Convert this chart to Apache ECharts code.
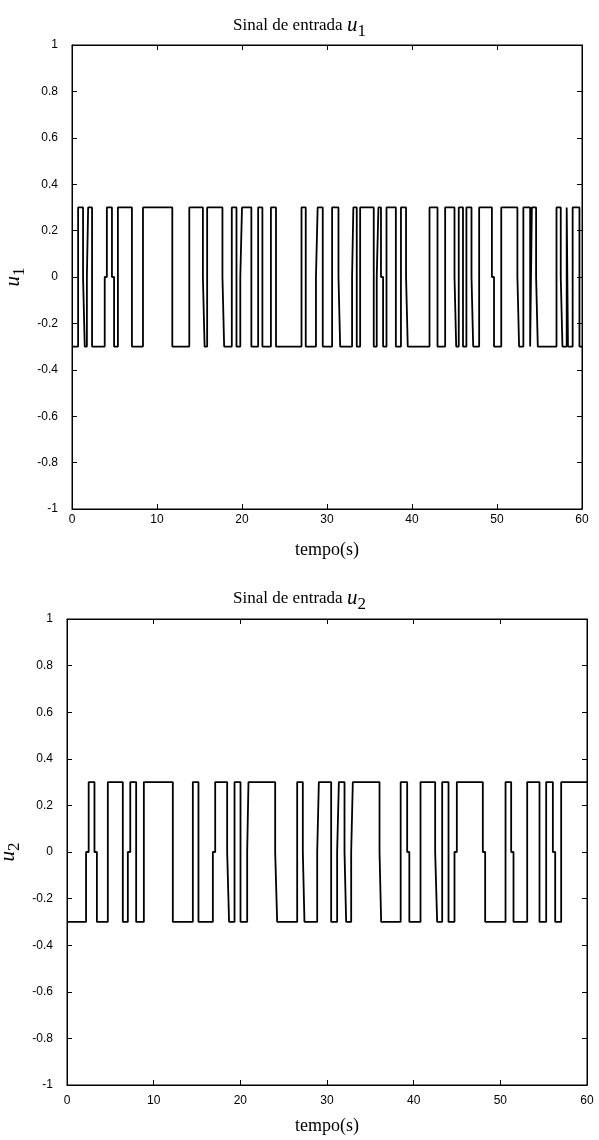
<!DOCTYPE html>
<html>
<head>
    <meta charset="utf-8">
    <title>Sinal de entrada</title>
    <script src="https://cdn.jsdelivr.net/npm/echarts@6/dist/echarts.min.js"></script>
    <style>
        body { margin: 0; background: #fff; }
    </style>
</head>
<body>
    <div id="main" style="width: 599px;height:1140px;"></div>
    <script type="text/javascript">
        // switching instants (s) and the level held from each instant on
        var u1Times = [0, 0.72, 1.3, 1.5, 1.75, 1.9, 2.36, 3.85, 4.1, 4.7, 4.95, 5.4, 7.05, 8.35, 11.8,
            13.8, 15.4, 15.6, 15.9, 17.7, 17.9, 18.8, 19.35, 19.8, 20.0, 21.1, 21.9, 22.4, 23.4, 24.0,
            27.0, 27.5, 28.7, 28.9, 29.5, 30.6, 31.35, 31.55, 32.95, 33.1, 33.5, 33.9, 35.5, 35.85,
            36.05, 36.35, 36.6, 37.0, 38.1, 38.7, 39.3, 39.5, 42.06, 43.0, 43.9, 45.0, 45.2, 45.5,
            46.0, 46.4, 47.0, 47.2, 47.9, 49.4, 49.65, 50.5, 52.4, 52.6, 53.1, 53.9, 54.1, 54.6, 54.8,
            57.0, 57.5, 57.7, 58.2, 58.35, 58.9, 59.7];
        var u1Values = [-0.3, 0.3, 0, -0.3, 0, 0.3, -0.3, 0, 0.3, 0, -0.3, 0.3, -0.3, 0.3, -0.3,
            0.3, 0, -0.3, 0.3, 0, -0.3, 0.3, -0.3, 0, 0.3, -0.3, 0.3, -0.3, 0.3, -0.3,
            0.3, -0.3, 0, 0.3, -0.3, 0.3, 0, -0.3, 0, 0.3, -0.3, 0.3, -0.3, 0,
            0.3, 0, -0.3, 0.3, -0.3, 0.3, 0, -0.3, 0.3, -0.3, 0.3, 0, -0.3, 0.3,
            -0.3, 0.3, 0, -0.3, 0.3, 0, -0.3, 0.3, 0, -0.3, 0.3, -0.3, 0.3, 0, -0.3,
            0.3, 0, -0.3, 0.3, -0.3, 0.3, -0.3];

        var u2Times = [0, 2.2, 2.5, 3.17, 3.45, 4.71, 6.44, 7.02, 7.3, 7.98, 8.87, 12.21, 14.52, 15.17,
            16.83, 17.1, 18.48, 18.7, 19.33, 20.02, 20.79, 20.94, 24.02, 24.25, 26.56, 27.21, 27.4,
            28.87, 29.06, 30.48, 31.17, 31.37, 32.02, 32.21, 32.79, 32.98, 36.06, 36.25, 38.5, 39.25,
            39.5, 40.79, 42.48, 42.71, 43.29, 44.02, 44.71, 44.98, 47.98, 48.25, 50.6, 51.25, 51.52,
            53.1, 54.52, 55.29, 56.06, 56.33, 57.02];
        var u2Values = [-0.3, 0, 0.3, 0, -0.3, 0.3, -0.3, 0, 0.3, -0.3, 0.3, -0.3, 0.3, -0.3,
            0, 0.3, 0, -0.3, 0.3, -0.3, 0, 0.3, 0, -0.3, 0.3, 0, -0.3,
            0, 0.3, -0.3, 0, 0.3, 0, -0.3, 0, 0.3, 0, -0.3, 0.3, 0,
            -0.3, 0.3, 0, -0.3, 0.3, -0.3, 0, 0.3, 0, -0.3, 0.3, 0, -0.3,
            0.3, -0.3, 0.3, 0, -0.3, 0.3];

        var tEnd = 60;

        // stairs: each level is held until the next switching instant
        function stairs(times, values) {
            var out = [];
            times.forEach(function (t, i) {
                if (i > 0) {
                    out.push([t, values[i - 1]]);
                }
                out.push([t, values[i]]);
            });
            out.push([tEnd, values[values.length - 1]]);
            return out;
        }

        var myChart = echarts.init(document.getElementById('main'));

        var serif = 'Liberation Serif';
        var tickFont = { fontFamily: 'Liberation Sans', fontSize: 12, color: '#000' };
        var titleRich = {
            a: { fontFamily: serif, fontSize: 17, fontWeight: 'normal', color: '#000' },
            u: { fontFamily: serif, fontSize: 21, fontWeight: 'normal', fontStyle: 'italic', color: '#000' },
            s: { fontFamily: serif, fontSize: 17, fontWeight: 'normal', color: '#000', padding: [12, 0, 0, 0] }
        };

        function xAxes(grid, margin, gap) {
            return [{
                type: 'value', gridIndex: grid, min: 0, max: tEnd, interval: 10,
                name: 'tempo(s)', nameLocation: 'middle', nameGap: gap,
                nameTextStyle: { fontFamily: serif, fontSize: 18, color: '#000' },
                axisLine: { show: true, onZero: false, lineStyle: { color: '#000', width: 1 } },
                axisTick: { inside: true, length: 5, lineStyle: { color: '#000' } },
                axisLabel: Object.assign({ margin: margin }, tickFont),
                splitLine: { show: false }
            }, {
                type: 'value', gridIndex: grid, min: 0, max: tEnd, interval: 10, position: 'top',
                axisLine: { show: true, onZero: false, lineStyle: { color: '#000', width: 1 } },
                axisTick: { inside: true, length: 5, lineStyle: { color: '#000' } },
                axisLabel: { show: false },
                splitLine: { show: false }
            }];
        }

        function yAxes(grid, sub) {
            return [{
                type: 'value', gridIndex: grid, min: -1, max: 1, interval: 0.2,
                name: '{u|u}{s|' + sub + '}', nameLocation: 'middle', nameGap: 44, nameRotate: 90,
                nameMoveOverlap: false,
                nameTextStyle: { rich: titleRich },
                axisLine: { show: true, onZero: false, lineStyle: { color: '#000', width: 1 } },
                axisTick: { inside: true, length: 5, lineStyle: { color: '#000' } },
                axisLabel: Object.assign({ margin: 14 }, tickFont),
                splitLine: { show: false }
            }, {
                type: 'value', gridIndex: grid, min: -1, max: 1, interval: 0.2, position: 'right',
                axisLine: { show: true, onZero: false, lineStyle: { color: '#000', width: 1 } },
                axisTick: { inside: true, length: 5, lineStyle: { color: '#000' } },
                axisLabel: { show: false },
                splitLine: { show: false }
            }];
        }

        var option = {
            backgroundColor: '#fff',
            animation: false,
            title: [{
                text: '{a|Sinal de entrada }{u|u}{s|1}',
                left: 'center', top: 6,
                textStyle: { fontWeight: 'normal', rich: titleRich }
            }, {
                text: '{a|Sinal de entrada }{u|u}{s|2}',
                left: 'center', top: 579,
                textStyle: { fontWeight: 'normal', rich: titleRich }
            }],
            grid: [
                { left: 72, top: 45, width: 510, height: 464, outerBoundsMode: 'none',
                    show: true, borderColor: '#000', borderWidth: 1 },
                { left: 67, top: 619, width: 520, height: 466, outerBoundsMode: 'none',
                    show: true, borderColor: '#000', borderWidth: 1 }
            ],
            xAxis: xAxes(0, 5, 32).concat(xAxes(1, 10, 32)),
            yAxis: yAxes(0, '1').concat(yAxes(1, '2')),
            series: [{
                type: 'line', xAxisIndex: 0, yAxisIndex: 0, showSymbol: false,
                lineStyle: { color: '#000', width: 1.8 },
                data: stairs(u1Times, u1Values)
            }, {
                type: 'line', xAxisIndex: 2, yAxisIndex: 2, showSymbol: false,
                lineStyle: { color: '#000', width: 1.8 },
                data: stairs(u2Times, u2Values)
            }]
        };

        myChart.setOption(option);
    </script>
</body>
</html>
